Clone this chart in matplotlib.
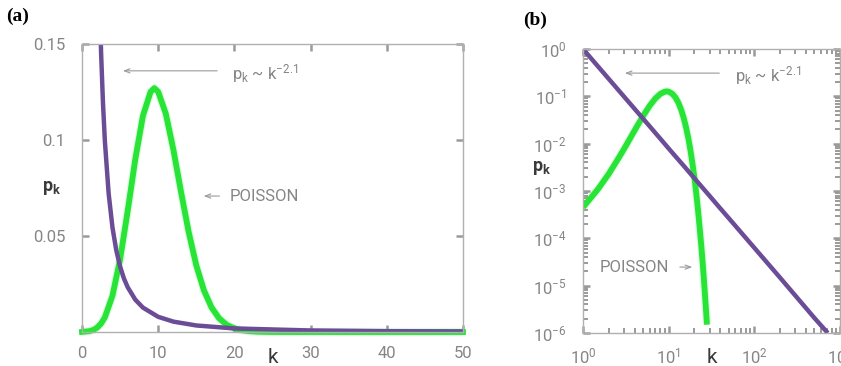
import matplotlib
matplotlib.use("Agg")
import matplotlib.pyplot as plt

plt.rcParams['font.family'] = ['Roboto', 'DejaVu Sans']
plt.rcParams['mathtext.fontset'] = 'custom'
plt.rcParams['mathtext.rm'] = 'Roboto'
plt.rcParams['mathtext.it'] = 'Roboto'
plt.rcParams['mathtext.bf'] = 'Roboto:bold'

# Poisson degree distribution, <k> = 10
poisson_k = [0, 1, 1.5, 2, 2.5, 3, 4, 5, 6, 7, 8, 9, 9.5, 10, 11, 12, 13, 14, 15, 16,
             17, 18, 19, 20, 21, 22, 23, 24, 25, 26, 27, 28, 30, 35, 40, 45, 50]
poisson_p = [4.5e-5, 4.5e-4, 1.1e-3, 2.3e-3, 4.4e-3, 7.6e-3, 0.0189, 0.0378, 0.0631,
             0.0901, 0.1126, 0.1251, 0.127, 0.1251, 0.1137, 0.0948, 0.0729, 0.0521,
             0.0347, 0.0217, 0.0128, 7.1e-3, 3.7e-3, 1.9e-3, 8.9e-4, 4.0e-4, 1.7e-4,
             7.2e-5, 2.9e-5, 1.1e-5, 4.1e-6, 1.5e-6, 1e-7, 1e-9, 1e-12, 1e-15, 1e-18]

# power law p_k ~ k^-2.1
power_k = [1, 2, 2.5, 2.75, 3, 3.5, 4, 4.5, 5, 5.5, 6, 7, 8, 10, 12, 15, 20, 30, 40, 50,
           100, 200, 500, 720]
power_p = [1.0, 0.233, 0.146, 0.1195, 0.0995, 0.0720, 0.0544, 0.0425, 0.0341, 0.0279,
           0.0233, 0.0168, 0.0127, 0.0079, 0.0054, 0.0034, 0.00185, 7.9e-4, 4.3e-4, 2.7e-4,
           6.3e-5, 1.47e-5, 2.1e-6, 1.0e-6]

green = '#27e436'
purple = '#6b4c96'
grey = '#9a9a9a'
txt = '#858585'
dark = '#3a3a3a'
arrow = dict(arrowstyle='->,head_length=0.4,head_width=0.15', color=grey, lw=0.8)

fig = plt.figure(figsize=(8.41, 3.66), dpi=100)
ax1 = fig.add_axes([0.0975, 0.0929, 0.453, 0.787])
ax2 = fig.add_axes([0.6932, 0.0902, 0.3056, 0.776])

for ax in (ax1, ax2):
    for s in ax.spines.values():
        s.set_color('#b0b0b0')
        s.set_linewidth(1.0)
    ax.tick_params(which='major', direction='in', length=5, width=1.8, color=grey,
                   top=True, right=True, labelsize=12, labelcolor=txt, pad=10)
    ax.tick_params(which='minor', direction='in', length=3.5, width=1.4, color=grey,
                   top=True, right=True)

# Grafico (a) - escala linear
p1 = [p if k <= 28 else 0 for k, p in zip(poisson_k, poisson_p)]
ax1.plot(poisson_k, p1, color=green, lw=6, alpha=0.15, clip_on=False, solid_capstyle='butt')
ax1.plot(poisson_k, p1, color=green, lw=4.2, clip_on=False, solid_capstyle='projecting')
ax1.plot(power_k, power_p, color=purple, lw=3.2)
ax1.set_xlim(0, 50)
ax1.set_ylim(0, 0.15)
ax1.set_xticks([0, 10, 20, 30, 40, 50])
ax1.set_yticks([0.05, 0.1, 0.15])
ax1.set_yticklabels(['0.05', '0.1', '0.15'])
ax1.tick_params(axis='y', pad=12)

ax1.annotate('', xy=(5.0, 0.136), xytext=(18.1, 0.136), arrowprops=arrow)
ax1.text(19.7, 0.1345, r'p$_\mathregular{k}$ ~ k$^\mathregular{-2.1}$', color=txt,
         fontsize=12, va='center', ha='left')
ax1.annotate('', xy=(15.6, 0.0708), xytext=(18.4, 0.0708), arrowprops=arrow)
ax1.text(19.4, 0.0708, 'POISSON', color=txt, fontsize=12, va='center', ha='left')

ax1.text(0.5, -0.087, 'k', transform=ax1.transAxes, ha='center', va='center',
         fontsize=15, color=dark)
ax1.text(-0.081, 0.5, r'p$_\mathbf{k}$', transform=ax1.transAxes, ha='center', va='center',
         fontsize=13, color=dark, weight='bold')
fig.text(0.007, 0.955, '(a)', fontsize=14, weight='bold', family='Liberation Serif',
         ha='left', va='center', color='black')

# Grafico (b) - escala log-log
k2 = [k for k in poisson_k if 1 <= k <= 28]
p2 = [p for k, p in zip(poisson_k, poisson_p) if 1 <= k <= 28]
ax2.plot(k2, p2, color=green, lw=6, alpha=0.15, solid_capstyle='butt')
ax2.plot(k2, p2, color=green, lw=4.2, solid_capstyle='butt')
ax2.plot(power_k, power_p, color=purple, lw=3.2, solid_capstyle='butt')
ax2.set_xscale('log')
ax2.set_yscale('log')
ax2.set_xlim(1, 1000)
ax2.set_ylim(1e-6, 1)
ax2.set_xticks([1, 10, 100, 1000])
ax2.set_yticks([1, 1e-1, 1e-2, 1e-3, 1e-4, 1e-5, 1e-6])
ax2.tick_params(axis='y', pad=12)

ax2.annotate('', xy=(0.152, 0.915), xytext=(0.541, 0.915), xycoords='axes fraction',
             arrowprops=arrow)
ax2.text(0.591, 0.908, r'p$_\mathregular{k}$ ~ k$^\mathregular{-2.1}$', transform=ax2.transAxes,
         color=txt, fontsize=12, va='center', ha='left')
ax2.text(0.066, 0.232, 'POISSON', transform=ax2.transAxes, color=txt, fontsize=12,
         va='center', ha='left')
ax2.annotate('', xy=(0.436, 0.232), xytext=(0.366, 0.232), xycoords='axes fraction',
             arrowprops=arrow)

ax2.text(0.5, -0.085, 'k', transform=ax2.transAxes, ha='center', va='center',
         fontsize=15, color=dark)
ax2.text(-0.16, 0.58, r'p$_\mathbf{k}$', transform=ax2.transAxes, ha='center', va='center',
         fontsize=13, color=dark, weight='bold')
fig.text(0.622, 0.945, '(b)', fontsize=14, weight='bold', family='Liberation Serif',
         ha='left', va='center', color='black')

fig.savefig('out.png', dpi=100)
